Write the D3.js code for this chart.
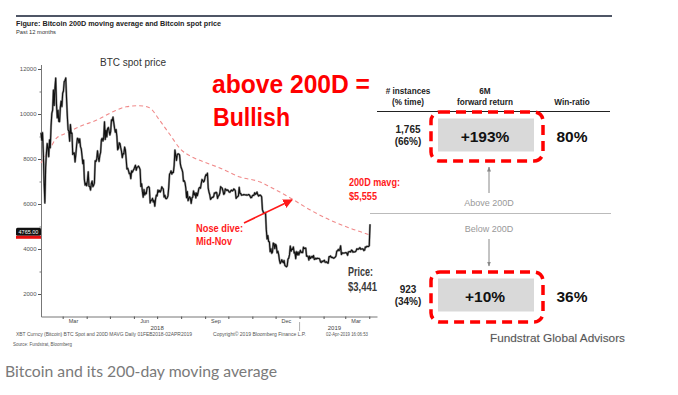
<!DOCTYPE html>
<html><head><meta charset="utf-8">
<script src="https://cdn.jsdelivr.net/npm/d3@7"></script>
<style>body{margin:0;background:#fff}svg{display:block}</style>
</head><body><svg id="c" width="678" height="395"></svg>
<script>
// ---- Spot price (daily) ----
const p2018Feb = [9170,8830,9170,8280,6930,6050,7620,8270,8690,8480,8100,8850,8500,9470,10030,10170,11060,10380,11150,11600,10440,9830,10160,9670,9660,10310,10570,10330];
const p2018Mar = [10920,11020,11440,11490,11600,10700,9910,9300,9230,8790,9530,9140,9150,8200,8260,8270,7870,8200,8610,8920,8900,8720,8900,8550,8450,8140,7790,7950,7090,6840,6930];
const p2018Apr = [6810,7050,7430,6790,6780,6620,6910,7020,6770,6830,6940,7920,7890,8000,8360,8060,7890,8160,8290,8850,8920,8800,8940,9650,8870,9280,8980,9350,9400,9240];
const p2018May = [9070,9220,9740,9700,9860,9620,9370,9190,9310,9010,8410,8480,8720,8680,8500,8340,8060,8240,8230,8530,8400,8000,7560,7590,7480,7350,7370,7130,7470,7410,7490];
const p2018Jun = [7540,7640,7720,7500,7630,7650,7680,7620,7530,6780,6900,6550,6300,6640,6400,6500,6460,6710,6740,6770,6720,6050,6160,6170,6250,6090,6160,5900,6220,6400];
const p2018Jul = [6360,6620,6530,6600,6530,6600,6760,6710,6660,6310,6390,6250,6240,6270,6360,6740,7320,7380,7470,7330,7410,7400,7720,8400,8170,7940,8190,8230,8220,8180,7780];
const p2018Aug = [7620,7540,7420,7010,7040,6950,6720,6280,6550,6150,6240,6320,6260,6030,6270,6310,6580,6400,6490,6270,6490,6370,6530,6700,6740,6700,6910,7090,7040,6980,7030];
const p2018Sep = [7200,7300,7270,7370,6700,6530,6410,6200,6250,6300,6290,6330,6490,6480,6520,6500,6250,6350,6380,6490,6770,6720,6710,6590,6430,6460,6670,6640,6600,6630];
const p2018Oct = [6590,6530,6520,6580,6620,6580,6600,6670,6640,6590,6250,6300,6330,6360,6740,6470,6470,6390,6400,6400,6420,6410,6400,6410,6390,6400,6420,6410,6350,6280,6290];
const p2018Nov = [6370,6390,6380,6500,6430,6460,6530,6420,6350,6380,6400,6370,6320,5750,5650,5590,5580,5620,4870,4450,4600,4330,4320,3880,4010,3810,3860,4260,4240,4020];
const p2018Dec = [4210,4140,3830,3900,3750,3500,3360,3420,3520,3440,3390,3490,3270,3240,3210,3250,3550,3590,3750,4130,3900,4000,3980,4090,3820,3860,3570,3880,3740,3860,3740];
const p2019Jan = [3840,3940,3840,3860,3840,4080,4030,4030,4040,3680,3690,3670,3510,3680,3580,3630,3670,3620,3710,3540,3550,3590,3560,3590,3580,3580,3550,3430,3400,3460,3440];
const p2019Feb = [3470,3500,3410,3410,3430,3380,3370,3650,3660,3690,3620,3630,3610,3590,3610,3640,3690,3900,3920,3980,3930,3980,4140,3760,3830,3810,3820,3820];
const p2019Mar = [3830,3840,3810,3720,3870,3880,3890,3870,3950,3930,3860,3880,3870,3880,3920,4010,3990,3990,4030,4060,3990,4000,4010,4000,3930,3950,4090,4080,4120,4110,4110];
const p2019Apr = [4150,5100];
const monthStarts = ["2018-02-01","2018-03-01","2018-04-01","2018-05-01","2018-06-01","2018-07-01","2018-08-01","2018-09-01","2018-10-01","2018-11-01","2018-12-01","2019-01-01","2019-02-01","2019-03-01","2019-04-01"];
const monthValues = [p2018Feb,p2018Mar,p2018Apr,p2018May,p2018Jun,p2018Jul,p2018Aug,p2018Sep,p2018Oct,p2018Nov,p2018Dec,p2019Jan,p2019Feb,p2019Mar,p2019Apr];

// ---- 200D moving average ----
const maDates = ["2018-02-01","2018-02-13","2018-02-21","2018-03-06","2018-03-23","2018-04-14","2018-05-05","2018-05-22","2018-06-08","2018-06-21","2018-07-04","2018-07-17","2018-07-31","2018-08-15","2018-08-26","2018-09-20","2018-10-16","2018-11-11","2018-11-24","2018-12-20","2019-01-15","2019-02-09","2019-03-07","2019-03-29","2019-04-02"];
const maValues = [7820,8490,8930,9150,9440,9730,10100,10320,10370,10280,9730,9110,8450,8090,7930,7600,7200,6980,6760,6270,5730,5290,4930,4670,4620];

// ---- axis labels ----
const yMajor = [2000,4000,6000,8000,10000,12000];
const yMinor = [3000,5000,7000,9000,11000];
const monthLabelDates = ["2018-03-15","2018-06-15","2018-09-15","2018-12-15","2019-03-15"];
const monthLabelText = ["Mar","Jun","Sep","Dec","Mar"];
const yearLabelDates = ["2018-07-01","2019-02-15"];
const yearLabelText = ["2018","2019"];

// ---- table ----
const rowInstances = ["1,765","923"];
const rowShare = ["(66%)","(34%)"];
const rowReturn = ["+193%","+10%"];
const rowWin = ["80%","36%"];

const parse = d3.timeParse("%Y-%m-%d");
const price = [];
monthStarts.forEach((s,mi)=>{ const st=parse(s); monthValues[mi].forEach((v,i)=>price.push({date:d3.timeDay.offset(st,i),value:v})); });
const ma = maDates.map((d,i)=>({date:parse(d),value:maValues[i]}));

const svg = d3.select("#c");
const x = d3.scaleTime().domain([parse("2018-02-01"),parse("2019-04-11")]).range([41,377]);
const y = d3.scaleLinear().domain([1000,12200]).range([316.5,64.5]);

const SANS = "'Liberation Sans', Arial, sans-serif";
const NARROW = "'Liberation Sans Narrow','Arial Narrow','Liberation Sans',Arial,sans-serif";

// header
svg.append("line").attr("x1",16).attr("x2",612).attr("y1",16).attr("y2",16).attr("stroke","#4f5666").attr("stroke-width",2);
svg.append("text").attr("x",16).attr("y",26).attr("font-family",SANS).attr("font-weight","bold").attr("font-size",7.2).attr("fill","#222")
  .attr("textLength",205).attr("lengthAdjust","spacingAndGlyphs").text("Figure: Bitcoin 200D moving average and Bitcoin spot price");
svg.append("text").attr("x",16).attr("y",34).attr("font-family",SANS).attr("font-size",5.5).attr("fill","#333")
  .attr("textLength",40).attr("lengthAdjust","spacingAndGlyphs").text("Past 12 months");

// axes
const gy = svg.append("g").attr("transform","translate(41,0)")
  .call(d3.axisLeft(y).tickValues(yMajor).tickSize(3).tickSizeOuter(0).tickPadding(1.5).tickFormat(d3.format("d")));
gy.select(".domain").attr("stroke","#777");
gy.selectAll(".tick line").attr("stroke","#555");
gy.selectAll(".tick text").attr("font-family",SANS).attr("font-size",6).attr("fill","#555");
const gym = svg.append("g").attr("transform","translate(41,0)")
  .call(d3.axisLeft(y).tickValues(yMinor).tickSize(1.5).tickFormat(""));
gym.select(".domain").remove();
gym.selectAll(".tick line").attr("stroke","#777");

const gx = svg.append("g").attr("transform","translate(0,316.5)")
  .call(d3.axisBottom(x).tickValues(d3.timeMonth.range(parse("2018-03-01"),parse("2019-04-02"))).tickSize(2.5).tickSizeOuter(0).tickFormat(""));
gx.select(".domain").attr("stroke","#777");
gx.selectAll(".tick line").attr("stroke","#555");
svg.append("g").selectAll("text").data(monthLabelDates).join("text")
  .attr("x",d=>x(parse(d))).attr("y",323).attr("text-anchor","middle")
  .attr("font-family",SANS).attr("font-size",5.5).attr("fill","#444").text((d,i)=>monthLabelText[i]);
svg.append("g").selectAll("text").data(yearLabelDates).join("text")
  .attr("x",d=>x(parse(d))).attr("y",329.5).attr("text-anchor","middle")
  .attr("font-family",SANS).attr("font-size",6).attr("fill","#444").text((d,i)=>yearLabelText[i]);
svg.append("line").attr("x1",x(parse("2019-01-01"))).attr("x2",x(parse("2019-01-01"))).attr("y1",322).attr("y2",331).attr("stroke","#999").attr("stroke-width",0.8);

// lines
svg.append("path").datum(ma).attr("fill","none").attr("stroke","#f08a8a").attr("stroke-width",1.1).attr("stroke-dasharray","4,3")
  .attr("d",d3.line().x(d=>x(d.date)).y(d=>y(d.value)).curve(d3.curveMonotoneX));
svg.append("path").datum(price).attr("fill","none").attr("stroke","#9a9a9a").attr("stroke-width",2.2).attr("stroke-linejoin","round")
  .attr("d",d3.line().x(d=>x(d.date)).y(d=>y(d.value)));
svg.append("path").datum(price).attr("fill","none").attr("stroke","#111").attr("stroke-width",1.1).attr("stroke-linejoin","round")
  .attr("d",d3.line().x(d=>x(d.date)).y(d=>y(d.value)));

// last price tag
const tagY = y(4765);
svg.append("rect").attr("x",16).attr("y",tagY-4).attr("width",25).attr("height",8).attr("rx",1.5).attr("fill","#111");
svg.append("rect").attr("x",16).attr("y",tagY+4).attr("width",25).attr("height",3).attr("fill","#e81010");
svg.append("text").attr("x",28.5).attr("y",tagY+2.2).attr("text-anchor","middle").attr("font-family",SANS).attr("font-size",5.5).attr("fill","#fff").text("4765.00");

// chart title in plot
svg.append("text").attr("x",100).attr("y",66).attr("font-family",SANS).attr("font-size",10).attr("fill","#333").text("BTC spot price");

// red annotations
function txt(xp,yp,s,size,color,w,weight){
  const t = svg.append("text").attr("x",xp).attr("y",yp).attr("font-family",NARROW).attr("font-weight",weight||"bold")
    .attr("font-size",size).attr("fill",color).text(s);
  if(w) t.attr("textLength",w).attr("lengthAdjust","spacingAndGlyphs");
  return t;
}
txt(212,93,"above 200D =",25,"#ff0000",158);
txt(213,126,"Bullish",25,"#ff0000",77);
txt(349,186,"200D mavg:",11,"#ff1a1a",51);
txt(349,200,"$5,555",11,"#ff1a1a",28);
txt(196,232,"Nose dive:",11,"#ff1a1a",47);
txt(196,245,"Mid-Nov",11,"#ff1a1a",36);
txt(348,276,"Price:",12,"#3a3a3a",25);
txt(348,291,"$3,441",12,"#3a3a3a",29);

const defs = svg.append("defs");
defs.append("marker").attr("id","ar").attr("viewBox","0 0 10 10").attr("refX",9).attr("refY",5)
  .attr("markerWidth",6).attr("markerHeight",6).attr("orient","auto")
  .append("path").attr("d","M0,0L10,5L0,10z").attr("fill","#ff1a1a");
defs.append("marker").attr("id","ag").attr("viewBox","0 0 10 10").attr("refX",9).attr("refY",5)
  .attr("markerWidth",5).attr("markerHeight",5).attr("orient","auto")
  .append("path").attr("d","M0,1L10,5L0,9z").attr("fill","#888");
svg.append("line").attr("x1",244).attr("y1",223).attr("x2",292).attr("y2",200).attr("stroke","#ff1a1a").attr("stroke-width",1.6).attr("marker-end","url(#ar)");

// table
const hdr = (xp,yp,s)=>svg.append("text").attr("x",xp).attr("y",yp).attr("text-anchor","middle").attr("font-family",SANS)
  .attr("font-weight","bold").attr("font-size",8.2).attr("fill","#222").text(s);
hdr(408,94,"# instances"); hdr(408,105,"(% time)");
hdr(485,94,"6M"); hdr(485,105,"forward return");
hdr(572,105,"Win-ratio");
svg.append("line").attr("x1",377).attr("x2",610).attr("y1",111.5).attr("y2",111.5).attr("stroke","#222").attr("stroke-width",1);

const rowY = [112,272];
rowY.forEach((ry,i)=>{
  svg.append("rect").attr("x",438).attr("y",ry+6.5).attr("width",96).attr("height",33).attr("fill","#d9d9d9");
  svg.append("rect").attr("x",431).attr("y",ry).attr("width",112).attr("height",i===0?49:50).attr("rx",9)
    .attr("fill","none").attr("stroke","#ff0000").attr("stroke-width",3.5).attr("stroke-dasharray","10,6");
  svg.append("text").attr("x",485).attr("y",ry+30).attr("text-anchor","middle").attr("font-family",SANS).attr("font-weight","bold")
    .attr("font-size",15.5).attr("fill","#111").text(rowReturn[i]);
  svg.append("text").attr("x",572).attr("y",ry+30).attr("text-anchor","middle").attr("font-family",SANS).attr("font-weight","bold")
    .attr("font-size",15.5).attr("fill","#111").text(rowWin[i]);
  svg.append("text").attr("x",408).attr("y",ry+20.5).attr("text-anchor","middle").attr("font-family",SANS).attr("font-weight","bold")
    .attr("font-size",10).attr("fill","#222").text(rowInstances[i]);
  svg.append("text").attr("x",408).attr("y",ry+33).attr("text-anchor","middle").attr("font-family",SANS).attr("font-weight","bold")
    .attr("font-size",10).attr("fill","#222").text(rowShare[i]);
});

svg.append("line").attr("x1",489).attr("x2",489).attr("y1",193).attr("y2",167).attr("stroke","#888").attr("stroke-width",1).attr("marker-end","url(#ag)");
svg.append("line").attr("x1",489).attr("x2",489).attr("y1",239).attr("y2",266).attr("stroke","#888").attr("stroke-width",1).attr("marker-end","url(#ag)");
svg.append("text").attr("x",489).attr("y",206).attr("text-anchor","middle").attr("font-family",SANS).attr("font-size",9).attr("fill","#999").text("Above 200D");
svg.append("line").attr("x1",370).attr("x2",611).attr("y1",213.5).attr("y2",213.5).attr("stroke","#bbb").attr("stroke-width",1);
svg.append("text").attr("x",489).attr("y",232).attr("text-anchor","middle").attr("font-family",SANS).attr("font-size",9).attr("fill","#999").text("Below 200D");

// footer texts
const small = (xp,yp,s,w)=>svg.append("text").attr("x",xp).attr("y",yp).attr("font-family",SANS).attr("font-size",5).attr("fill","#555")
  .attr("textLength",w).attr("lengthAdjust","spacingAndGlyphs").text(s);
small(16,336,"XBT Curncy (Bitcoin) BTC Spot and 200D MAVG  Daily 01FEB2018-02APR2019",176);
small(213,336,"Copyright\u00a9 2019 Bloomberg Finance L.P.",93);
small(326,336,"02-Apr-2019 16:06:53",42);
small(13,345.5,"Source: Fundstrat, Bloomberg",59);

svg.append("text").attr("x",490).attr("y",342).attr("font-family",SANS).attr("font-size",11.5).attr("fill","#555")
  .attr("stroke","#e8e8e8").attr("stroke-width",0.6).attr("paint-order","stroke")
  .attr("textLength",135).attr("lengthAdjust","spacingAndGlyphs").text("Fundstrat Global Advisors");

svg.append("text").attr("x",5).attr("y",377).attr("font-family","Lato, 'Open Sans', sans-serif").attr("font-size",16).attr("fill","#7a7a7a")
  .attr("textLength",272).attr("lengthAdjust","spacingAndGlyphs").text("Bitcoin and its 200-day moving average");
</script></body></html>
